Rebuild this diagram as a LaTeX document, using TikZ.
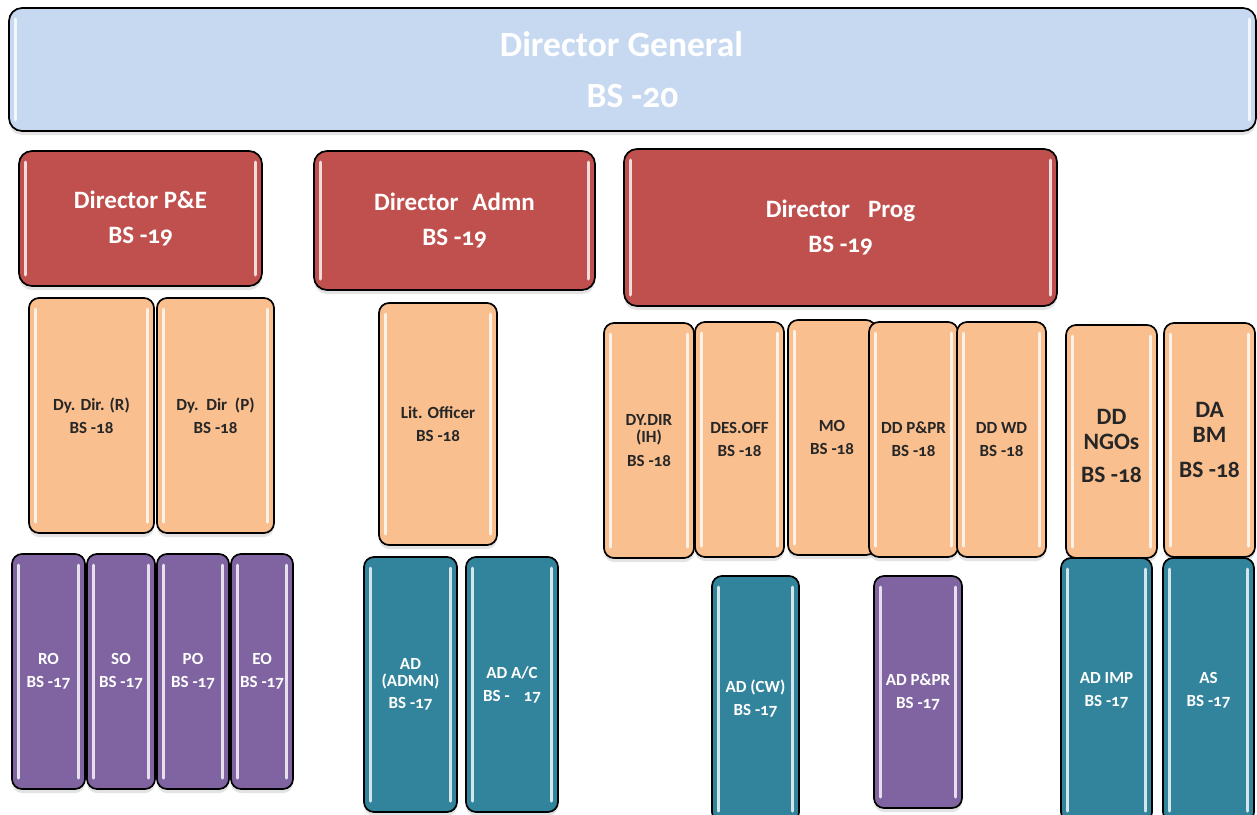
\documentclass[tikz,border=0pt]{standalone}
\usepackage{fontspec}
\setmainfont{Carlito}[Numbers=OldStyle]
\usetikzlibrary{shadows}
\definecolor{dgblue}{HTML}{C6D9F1}
\definecolor{redf}{HTML}{C0504D}
\definecolor{peach}{HTML}{F9BF8F}
\definecolor{purp}{HTML}{8064A2}
\definecolor{tealf}{HTML}{31849B}
\definecolor{darktxt}{HTML}{262626}
\tikzset{
  box/.style={draw=black, line width=1.7pt, rounded corners=10pt, align=center, inner sep=0pt,
    drop shadow={opacity=0.22, shadow xshift=0pt, shadow yshift=-4pt},
    path picture={
      \draw[white, opacity=0.8, line width=3pt, line cap=round]
        ([xshift=6pt,yshift=-11pt]path picture bounding box.north west) -- ([xshift=6pt,yshift=11pt]path picture bounding box.south west)
        ([xshift=-7pt,yshift=-11pt]path picture bounding box.north east) -- ([xshift=-7pt,yshift=11pt]path picture bounding box.south east);
    }},
  dgbox/.style={box, fill=dgblue, text=white, rounded corners=13pt, font=\bfseries\fontsize{35.5}{51}\selectfont},
  redbox/.style={box, fill=redf, text=white, rounded corners=13pt, font=\bfseries\fontsize{25}{35}\selectfont},
  peachbox/.style={box, fill=peach, text=darktxt, font=\bfseries\fontsize{17}{23}\selectfont},
  bigpeach/.style={box, fill=peach, text=darktxt, font=\bfseries\fontsize{23.5}{24.5}\selectfont},
  purpbox/.style={box, fill=purp, text=white, font=\bfseries\fontsize{17}{23}\selectfont},
  tealbox/.style={box, fill=tealf, text=white, font=\bfseries\fontsize{17}{23}\selectfont},
}
\newcommand\bx[7]{\node[#2, minimum width={(#5-#3)*1pt}, minimum height={(#6-#4)*1pt}] (#1) at ({(#3+#5)/2},{(#4+#6)/2}) {#7};}
\begin{document}
\begin{tikzpicture}[x=1pt,y=-1pt]
\useasboundingbox (0,0) rectangle (1257,814);
\clip (0,0) rectangle (1257,814);
% top
\bx{dg}{dgbox}{9}{8}{1256}{131}{Director General\kern22pt\\BS -20}
% directors
\bx{dpe}{redbox}{19}{151}{262}{286}{Director P\&E\\BS -19}
\bx{dad}{redbox}{314}{151}{595}{290}{Director\hspace{14pt}Admn\\BS -19}
\bx{dpr}{redbox}{624}{149}{1057}{306}{Director\hspace{18pt}Prog\\BS -19}
% deputy directors
\bx{ddr}{peachbox}{29}{298}{154}{533}{Dy. Dir. (R)\\BS -18}
\bx{ddp}{peachbox}{157}{298}{274}{533}{Dy.\ \ Dir\ \ (P)\\BS -18}
\bx{lit}{peachbox}{379}{303}{497}{545}{Lit. Officer\\BS -18}
\bx{dyih}{peachbox}{604}{323}{694}{558}{DY.DIR\\[-6pt](IH)\\[1pt]BS -18}
\bx{des}{peachbox}{695}{322}{784}{557}{DES.OFF\\BS -18}
\bx{mo}{peachbox}{788}{320}{876}{555}{MO\\BS -18}
\bx{ddppr}{peachbox}{869}{322}{958}{557}{DD P\&PR\\BS -18}
\bx{ddwd}{peachbox}{957}{322}{1046}{557}{DD WD\\BS -18}
\bx{ngo}{bigpeach}{1066}{325}{1157}{558}{\\[0pt]DD\\NGOs\\[9pt]BS -18}
\bx{dabm}{bigpeach}{1164}{323}{1255}{557}{DA\\BM\\[11pt]BS -18}
% BS-17 level
\bx{ro}{purpbox}{12}{554}{85}{789}{RO\\BS -17}
\bx{so}{purpbox}{87}{554}{155}{789}{SO\\BS -17}
\bx{po}{purpbox}{157}{554}{229}{789}{PO\\BS -17}
\bx{eo}{purpbox}{231}{554}{293}{789}{EO\\BS -17}
\bx{adadmn}{tealbox}{364}{557}{457}{812}{AD\\[-6pt](ADMN)\\[-1pt]BS -17}
\bx{adac}{tealbox}{466}{557}{558}{812}{AD A/C\\BS -\hspace{14pt}17}
\bx{adcw}{tealbox}{712}{576}{799}{822}{AD (CW)\\BS -17}
\bx{adppr}{purpbox}{874}{576}{962}{808}{AD P\&PR\\BS -17}
\bx{adimp}{tealbox}{1061}{558}{1152}{822}{AD IMP\\BS -17}
\bx{as}{tealbox}{1163}{558}{1254}{822}{AS\\BS -17}
\end{tikzpicture}
\end{document}
